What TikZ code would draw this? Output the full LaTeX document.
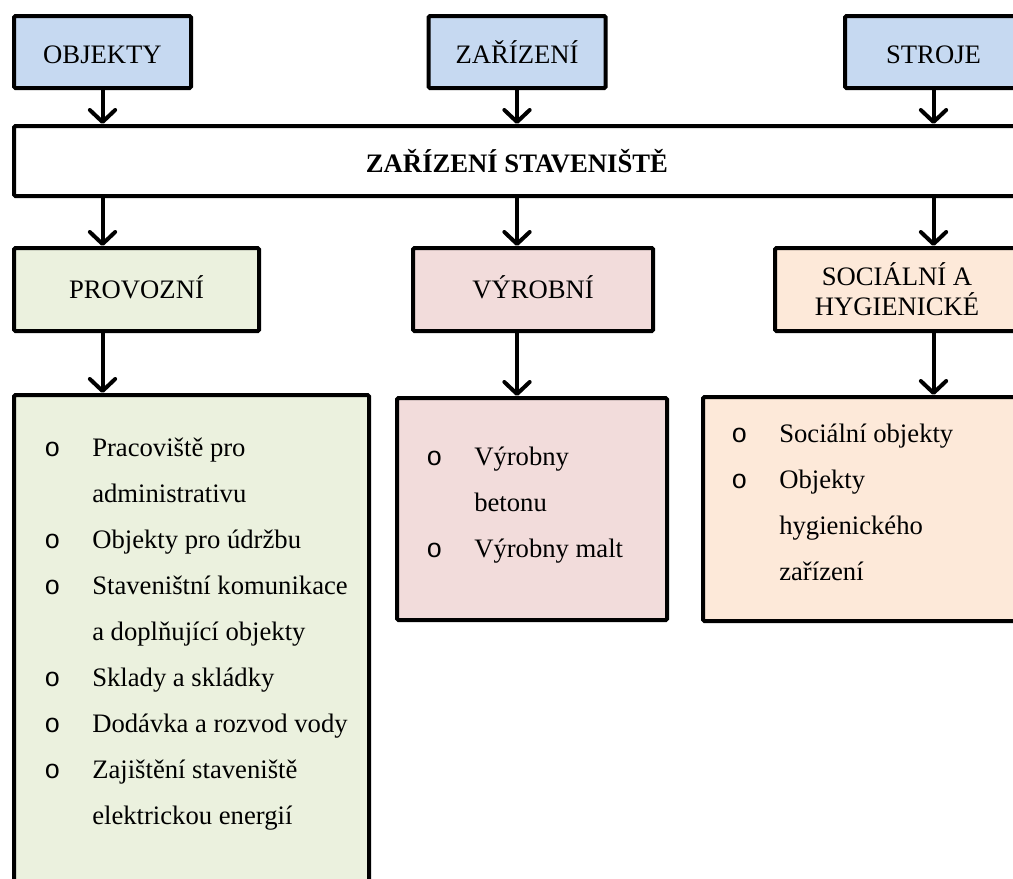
\documentclass[tikz,border=0pt]{standalone}
\usepackage{fontspec}
\setmainfont{Liberation Serif}
\newfontfamily\bulletfont{Liberation Mono}
\usetikzlibrary{arrows.meta,calc}
\definecolor{hdrblue}{HTML}{C6D9F1}
\definecolor{provgreen}{HTML}{EBF1DE}
\definecolor{vyrpink}{HTML}{F2DCDB}
\definecolor{socpeach}{HTML}{FDE9D9}
\newcommand{\bitem}[1]{\strut\makebox[30pt]{\bulletfont o}\hspace{15pt}#1}
\newcommand{\bcont}[1]{\strut\hspace{45pt}#1}
\begin{document}
\begin{tikzpicture}[x=0.75pt,y=-0.75pt,
  box/.style={draw=black, line width=3pt, rounded corners=1pt, inner sep=0pt, align=center,
    font=\fontsize{20pt}{22.5pt}\selectfont},
  toptext/.style={text height=16.5pt, text depth=0pt},
  midtext/.style={text height=13.5pt, text depth=0pt},
  arr/.style={line width=3pt, line cap=round, -{Straight Barb[length=9pt,width=19pt,round]}},
  listtext/.style={inner sep=0pt, anchor=north west, align=left,
    font=\fontsize{20pt}{34.5pt}\selectfont}]
\useasboundingbox (0,0) rectangle (1013,878);
\clip (0,0) rectangle (1013,878);
% top row
\node[box, toptext, fill=hdrblue, minimum width=132.75pt, minimum height=54pt] (objekty) at (102.5,52) {OBJEKTY};
\node[box, toptext, fill=hdrblue, minimum width=132.75pt, minimum height=54pt] (zarizeni) at (517,52) {ZAŘÍZENÍ};
\node[box, toptext, fill=hdrblue, minimum width=132.75pt, minimum height=54pt] (stroje) at (933.5,52) {STROJE};
% bar
\node[box, toptext, fill=white, minimum width=754.5pt, minimum height=52.5pt, font=\fontsize{20pt}{22.5pt}\selectfont\bfseries] (bar) at (517,161) {ZAŘÍZENÍ STAVENIŠTĚ};
% categories
\node[box, midtext, fill=provgreen, minimum width=183.75pt, minimum height=62.25pt] (provozni) at (136.5,289.5) {PROVOZNÍ};
\node[box, midtext, fill=vyrpink, minimum width=180pt, minimum height=62.25pt] (vyrobni) at (533,289.5) {VÝROBNÍ};
\node[box, fill=socpeach, minimum width=183pt, minimum height=62.25pt] (socialni) at (897,289.5) {SOCIÁLNÍ A\\HYGIENICKÉ};
% detail boxes
\node[box, fill=provgreen, minimum width=266.25pt, minimum height=453.75pt] (provbox) at (191.5,697.5) {};
\node[box, fill=vyrpink, minimum width=202.5pt, minimum height=166.5pt] (vyrbox) at (532,509) {};
\node[box, fill=socpeach, minimum width=237.75pt, minimum height=168pt] (socbox) at (861.5,509) {};
% lists
\node[listtext] (provlist) at (32,423.8) {\bitem{Pracoviště pro}\\
  \bcont{administrativu}\\
  \bitem{Objekty pro údržbu}\\
  \bitem{Staveništní komunikace}\\
  \bcont{a doplňující objekty}\\
  \bitem{Sklady a skládky}\\
  \bitem{Dodávka a rozvod vody}\\
  \bitem{Zajištění staveniště}\\
  \bcont{elektrickou energií}};
\node[listtext] (vyrlist) at (414,433.3) {\bitem{Výrobny}\\
  \bcont{betonu}\\
  \bitem{Výrobny malt}};
\node[listtext] (soclist) at (719,410.3) {\bitem{Sociální objekty}\\
  \bitem{Objekty}\\
  \bcont{hygienického}\\
  \bcont{zařízení}};
% arrows
\draw[arr] (objekty.south) -- (objekty.south |- bar.north);
\draw[arr] (zarizeni.south) -- (zarizeni.south |- bar.north);
\draw[arr] (stroje.south) -- (stroje.south |- bar.north);
\draw[arr] (bar.south -| objekty.south) -- (provozni.north -| objekty.south);
\draw[arr] (bar.south -| zarizeni.south) -- (vyrobni.north -| zarizeni.south);
\draw[arr] (bar.south -| stroje.south) -- (socialni.north -| stroje.south);
\draw[arr] (provozni.south -| objekty.south) -- (provbox.north -| objekty.south);
\draw[arr] (vyrobni.south -| zarizeni.south) -- (vyrbox.north -| zarizeni.south);
\draw[arr] (socialni.south -| stroje.south) -- (socbox.north -| stroje.south);
\end{tikzpicture}
\end{document}
